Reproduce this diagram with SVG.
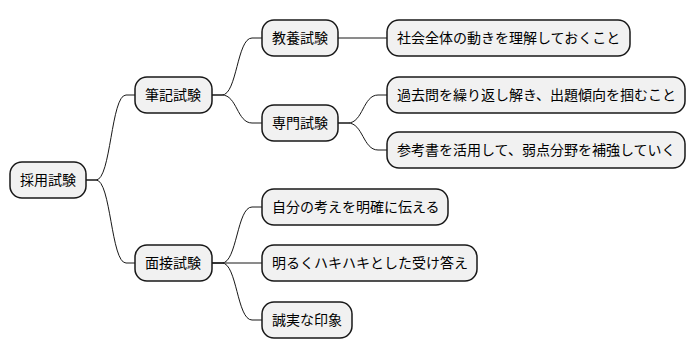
<svg xmlns="http://www.w3.org/2000/svg" width="698" height="358" viewBox="0 0 698 358">
<style>
.n rect{fill:#F1F1F1;stroke:#181818;stroke-width:1.5}
.n text{font-family:"Noto Sans CJK JP","Noto Sans CJK SC",sans-serif;font-size:14px;fill:#000}
.c path{fill:none;stroke:#181818;stroke-width:1}
</style>
<rect width="698" height="358" fill="#fff"/>
<g class="c">
<path d="M86,180 L96,180 C111,180 111,95 126,95 L135,95"/>
<path d="M86,180 L96,180 C111,180 111,263 126,263 L135,263"/>
<path d="M212,95 L222,95 C237,95 237,38 252,38 L262,38"/>
<path d="M212,95 L222,95 C237,95 237,123 252,123 L262,123"/>
<path d="M338,38 L387,38"/>
<path d="M338,123 L348,123 C363,123 363,95 378,95 L387,95"/>
<path d="M338,123 L348,123 C363,123 363,150 378,150 L387,150"/>
<path d="M212,263 L222,263 C237,263 237,207 252,207 L262,207"/>
<path d="M212,263 L262,263"/>
<path d="M212,263 L222,263 C237,263 237,320 252,320 L262,320"/>
</g>
<g id="root" class="n"><rect x="10" y="162" width="76" height="36" rx="12"/><text x="20" y="185">採用試験</text></g>
<g id="hikki" class="n"><rect x="135" y="77" width="77" height="36" rx="12"/><text x="145" y="100">筆記試験</text></g>
<g id="mensetsu" class="n"><rect x="135" y="245" width="77" height="36" rx="12"/><text x="145" y="268">面接試験</text></g>
<g id="kyouyou" class="n"><rect x="262" y="20" width="76" height="36" rx="12"/><text x="272" y="43">教養試験</text></g>
<g id="senmon" class="n"><rect x="262" y="105" width="76" height="36" rx="12"/><text x="272" y="128">専門試験</text></g>
<g id="shakai" class="n"><rect x="387" y="20" width="243" height="36" rx="12"/><text x="397" y="43">社会全体の動きを理解しておくこと</text></g>
<g id="kakomon" class="n"><rect x="387" y="77" width="298" height="36" rx="12"/><text x="397" y="100">過去問を繰り返し解き、出題傾向を掴むこと</text></g>
<g id="sankousho" class="n"><rect x="387" y="132" width="298" height="36" rx="12"/><text x="397" y="155">参考書を活用して、弱点分野を補強していく</text></g>
<g id="jibun" class="n"><rect x="262" y="189" width="186" height="36" rx="12"/><text x="272" y="212">自分の考えを明確に伝える</text></g>
<g id="akaruku" class="n"><rect x="262" y="245" width="215" height="36" rx="12"/><text x="272" y="268">明るくハキハキとした受け答え</text></g>
<g id="seijitsu" class="n"><rect x="262" y="302" width="90" height="36" rx="12"/><text x="272" y="325">誠実な印象</text></g>
</svg>
